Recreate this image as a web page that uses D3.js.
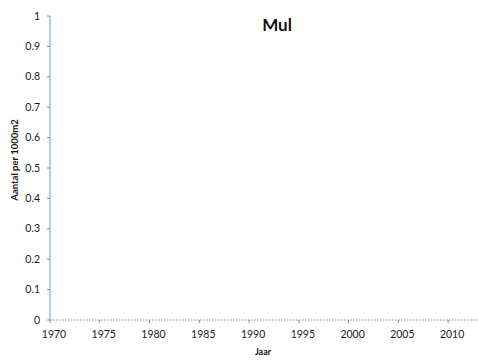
<!DOCTYPE html>
<html>
<head>
<meta charset="utf-8">
<script src="https://d3js.org/d3.v7.min.js"></script>
<style>
  body { margin: 0; background: #fff; }
  text { font-family: Lato, "Open Sans", sans-serif; }
</style>
</head>
<body>
<script>
// chart data (no observations plotted in the source)
const title = "Mul";
const xLabel = "Jaar";
const yLabel = "Aantal per 1000m2";
const yearTicks = [1970, 1975, 1980, 1985, 1990, 1995, 2000, 2005, 2010];
const valueTicks = [0, 0.1, 0.2, 0.3, 0.4, 0.5, 0.6, 0.7, 0.8, 0.9, 1];
const seriesYears = [];
const seriesValues = [];

const width = 478, height = 361;

const svg = d3.select("body").append("svg")
    .attr("width", width)
    .attr("height", height);

const x = d3.scaleLinear().domain([1970, 2013]).range([50, 478]);
const y = d3.scaleLinear().domain([0, 1]).range([320, 16]);

// x axis: dotted grey
const xg = svg.append("g").attr("transform", `translate(0,${y(0)})`);
xg.append("line")
    .attr("x1", x(1970)).attr("x2", x(2013))
    .attr("stroke", "#888").attr("stroke-width", 1)
    .attr("stroke-dasharray", "1.5,1.5");
xg.selectAll(".tk").data(yearTicks).enter().append("line")
    .attr("x1", d => x(d)).attr("x2", d => x(d))
    .attr("y1", 0).attr("y2", 3)
    .attr("stroke", "#888");
xg.selectAll("text").data(yearTicks).enter().append("text")
    .attr("x", d => x(d) + 4)
    .attr("y", 18)
    .attr("text-anchor", "middle")
    .style("font-size", "10.5px")
    .style("fill", "#1a1a1a")
    .text(d => d);

// y axis: thin blue line
const yg = svg.append("g").attr("transform", `translate(${x(1970)},0)`);
yg.append("line")
    .attr("y1", y(0)).attr("y2", y(1))
    .attr("stroke", "#5aa8d8").attr("stroke-width", 1);
yg.selectAll(".tk").data(valueTicks).enter().append("line")
    .attr("x1", -3).attr("x2", 0)
    .attr("y1", d => y(d)).attr("y2", d => y(d))
    .attr("stroke", "#888");
yg.selectAll("text").data(valueTicks).enter().append("text")
    .attr("x", -10)
    .attr("y", d => y(d) + 3.5)
    .attr("text-anchor", "end")
    .style("font-size", "10.5px")
    .style("fill", "#1a1a1a")
    .text(d => d);

// series (empty)
const line = d3.line().x((d, i) => x(seriesYears[i])).y(d => y(d));
svg.append("path")
    .datum(seriesValues)
    .attr("d", line)
    .attr("fill", "none")
    .attr("stroke", "#5aa8d8");

svg.append("text")
    .attr("x", 277).attr("y", 31)
    .attr("text-anchor", "middle")
    .style("font-size", "17px")
    .style("font-weight", "bold")
    .style("fill", "#111")
    .text(title);

svg.append("text")
    .attr("x", 263).attr("y", 355)
    .attr("text-anchor", "middle")
    .style("font-size", "9px")
    .style("font-weight", "bold")
    .style("fill", "#111")
    .text(xLabel);

svg.append("text")
    .attr("transform", `translate(18,160) rotate(-90)`)
    .attr("text-anchor", "middle")
    .style("font-size", "9.5px")
    .style("font-weight", "bold")
    .style("fill", "#111")
    .text(yLabel);
</script>
</body>
</html>
